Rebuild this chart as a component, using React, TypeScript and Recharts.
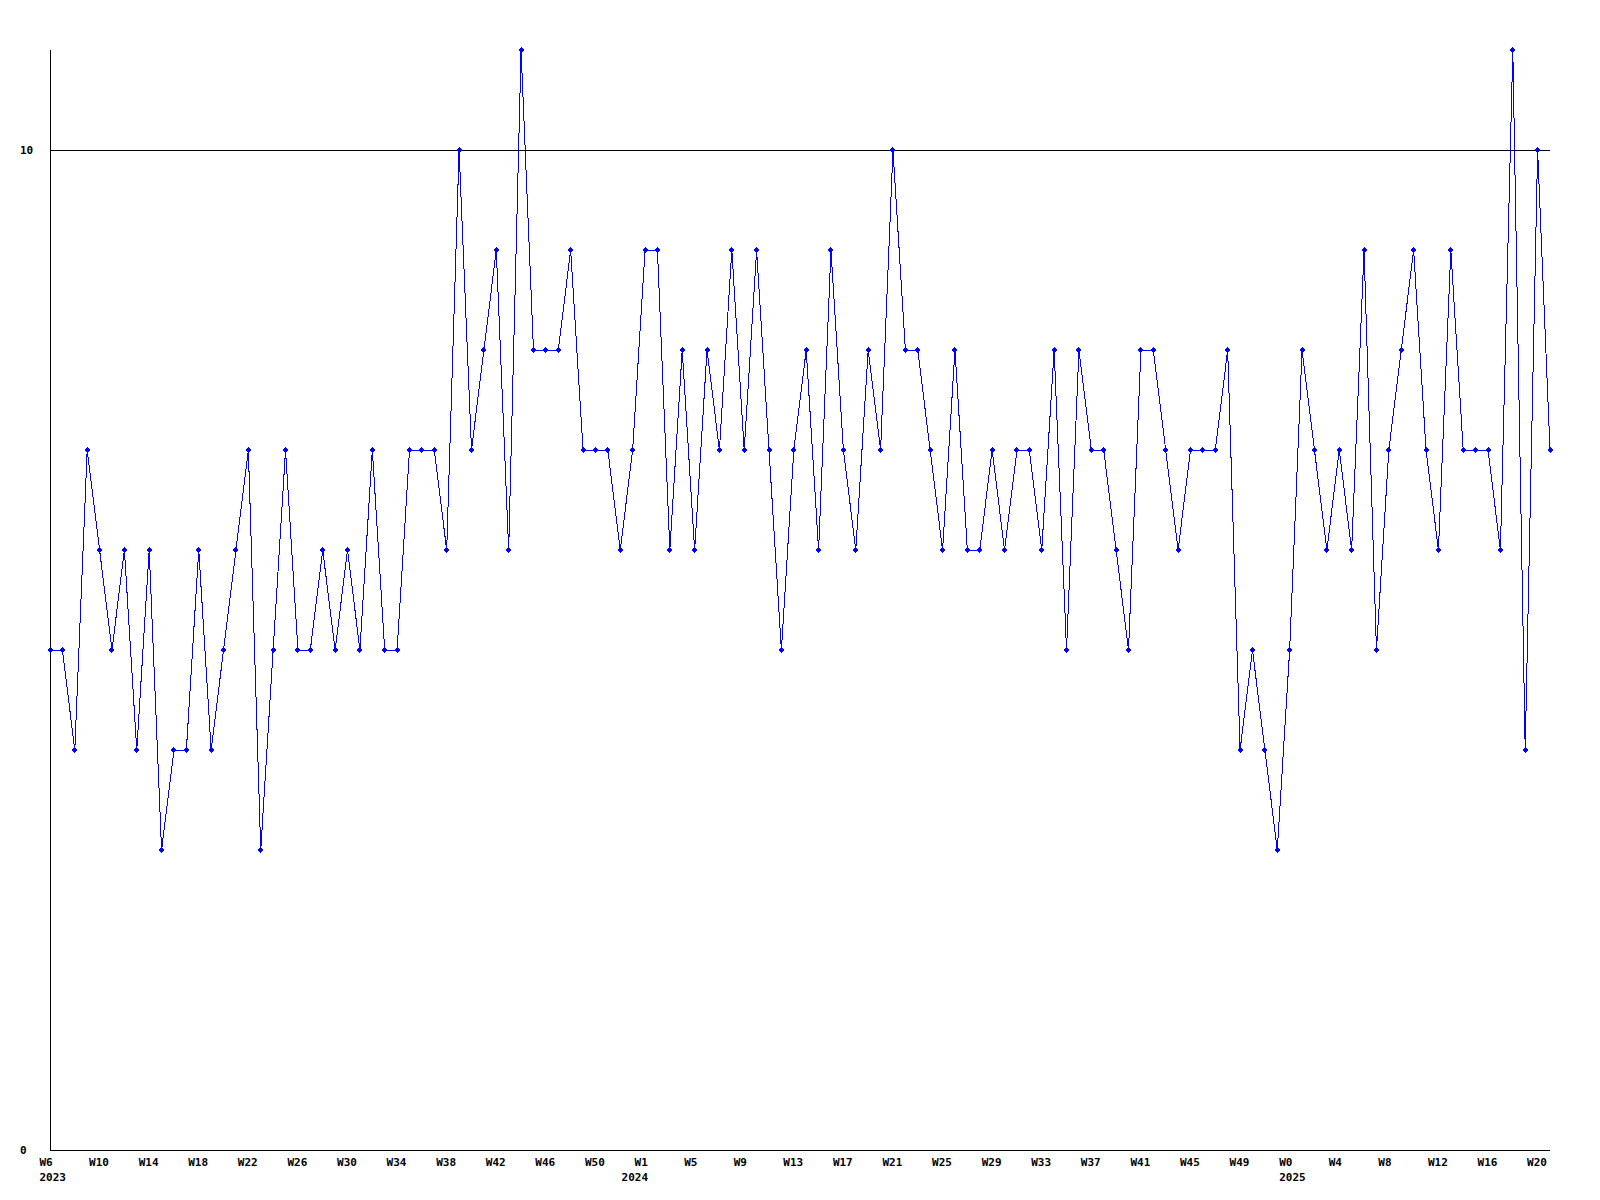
import React from 'react';
import { LineChart, Line, XAxis, YAxis, ReferenceLine } from 'recharts';

// Week ranges per year (x categories)
const YEAR_SEGMENTS = [
  { year: '2023', firstWeek: 6, lastWeek: 53 },
  { year: '2024', firstWeek: 1, lastWeek: 52 },
  { year: '2025', firstWeek: 0, lastWeek: 21 },
];

// Weekly values
const VALUES = [
  5, 5, 4, 7, 6, 5, 6, 4, 6, 3,
  4, 4, 6, 4, 5, 6, 7, 3, 5, 7,
  5, 5, 6, 5, 6, 5, 7, 5, 5, 7,
  7, 7, 6, 10, 7, 8, 9, 6, 11, 8,
  8, 8, 9, 7, 7, 7, 6, 7, 9, 9,
  6, 8, 6, 8, 7, 9, 7, 9, 7, 5,
  7, 8, 6, 9, 7, 6, 8, 7, 10, 8,
  8, 7, 6, 8, 6, 6, 7, 6, 7, 7,
  6, 8, 5, 8, 7, 7, 6, 5, 8, 8,
  7, 6, 7, 7, 7, 8, 4, 5, 4, 3,
  5, 8, 7, 6, 7, 6, 9, 5, 7, 8,
  9, 7, 6, 9, 7, 7, 7, 6, 11, 4,
  10, 7,
];

const Y_TICKS = [0, 10];
const Y_MAX = 11;
const REF_LINE_VALUE = 10;

type Cat = { id: string; week: string; year: string; first: boolean };
const CATEGORIES: Cat[] = [];
YEAR_SEGMENTS.forEach((seg) => {
  for (let w = seg.firstWeek; w <= seg.lastWeek; w++) {
    CATEGORIES.push({ id: `${seg.year}-W${w}`, week: `W${w}`, year: seg.year, first: w === seg.firstWeek });
  }
});

const data = CATEGORIES.map((c, i) => ({ id: c.id, value: VALUES[i] }));

const FONT = '"DejaVu Sans Mono", "Liberation Mono", monospace';
const BLUE = '#0000ff';
// year label horizontal nudge (px) relative to the week label
const YEAR_LABEL_NUDGE: Record<string, number> = { '2023': 0, '2024': -13, '2025': 0 };

const XTick = (props: any) => {
  const { x, y, payload } = props;
  const cat = CATEGORIES.find((c) => c.id === payload.value);
  if (!cat) return null;
  return (
    <g>
      <text x={x - 10.5} y={y + 16} fontFamily={FONT} fontSize={11} fontWeight="bold" fill="#000">
        {cat.week}
      </text>
      {cat.first && (
        <text
          x={x - 10.5 + (YEAR_LABEL_NUDGE[cat.year] || 0)}
          y={y + 31}
          fontFamily={FONT}
          fontSize={11}
          fontWeight="bold"
          fill="#000"
        >
          {cat.year}
        </text>
      )}
    </g>
  );
};

const YTick = (props: any) => {
  const { x, y, payload } = props;
  return (
    <text x={x - 30} y={y + 4} fontFamily={FONT} fontSize={11} fontWeight="bold" fill="#000" textAnchor="start">
      {payload.value}
    </text>
  );
};

const Dot = (props: any) => {
  const { cx, cy, index } = props;
  if (cx == null || cy == null) return null;
  const r = 3;
  return (
    <path
      key={`dot-${index}`}
      d={`M${cx - r},${cy} L${cx},${cy - r} L${cx + r},${cy} L${cx},${cy + r} Z`}
      fill={BLUE}
      stroke="none"
    />
  );
};

export default function App() {
  return (
    <div style={{ position: 'absolute', left: 0, top: 0, width: 1600, height: 1200, background: '#fff' }}>
      <style>{'.recharts-surface path, .recharts-surface line { shape-rendering: crispEdges; }'}</style>
      <LineChart width={1600} height={1200} data={data} margin={{ top: 50, right: 50, bottom: 0, left: 0 }}>
        <XAxis
          dataKey="id"
          type="category"
          interval={3}
          height={50}
          tickLine={false}
          tickSize={0}
          tickMargin={0}
          axisLine={{ stroke: '#000', strokeWidth: 1 }}
          tick={<XTick />}
        />
        <YAxis
          type="number"
          domain={[0, Y_MAX]}
          ticks={Y_TICKS}
          interval={0}
          width={50}
          tickLine={false}
          tickSize={0}
          tickMargin={0}
          axisLine={{ stroke: '#000', strokeWidth: 1 }}
          tick={<YTick />}
        />
        <ReferenceLine y={REF_LINE_VALUE} stroke="#000" strokeWidth={1} ifOverflow="visible" />
        <Line
          type="linear"
          dataKey="value"
          stroke={BLUE}
          strokeWidth={1}
          dot={<Dot />}
          activeDot={false}
          isAnimationActive={false}
        />
      </LineChart>
    </div>
  );
}
